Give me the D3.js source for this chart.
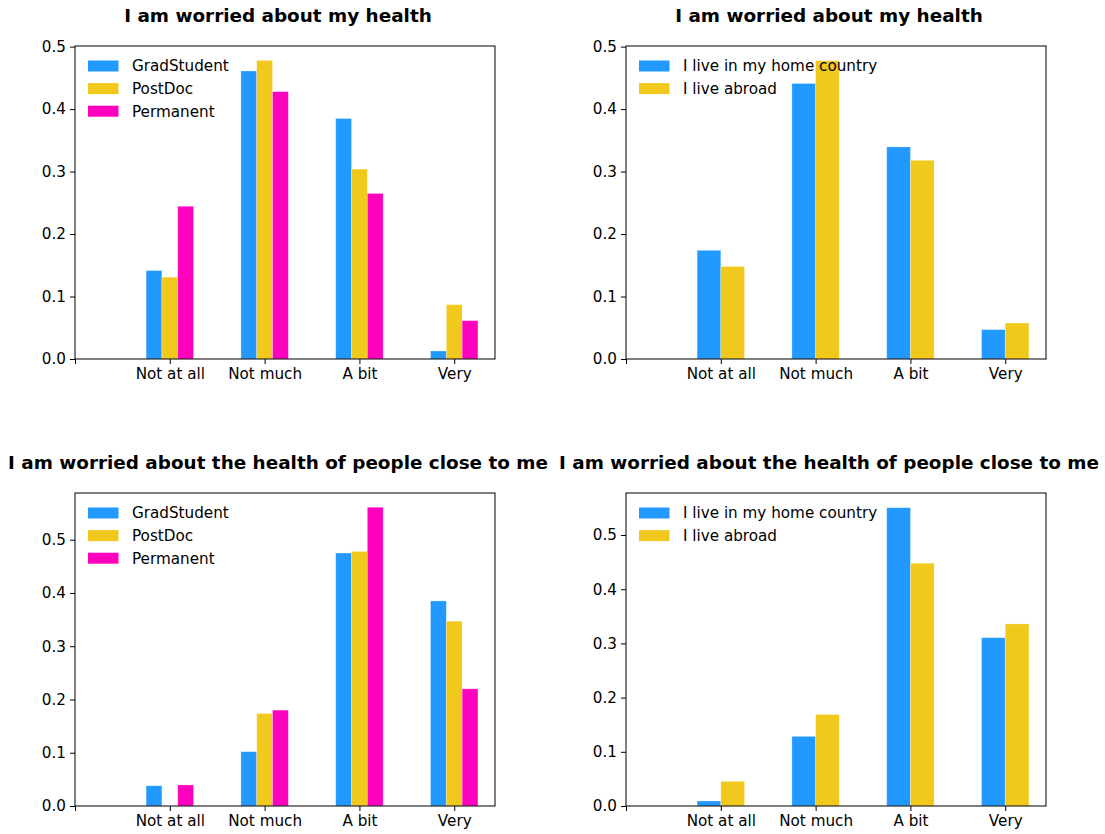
<!DOCTYPE html>
<html>
<head>
<meta charset="utf-8">
<script src="https://cdn.jsdelivr.net/npm/d3@7"></script>
<style>
  body { margin: 0; background: #fff; }
  svg text { font-family: "DejaVu Sans", sans-serif; fill: #000; }
</style>
</head>
<body>
<div id="chart"></div>
<script>
// categories and tick labels
const categories = ["Not at all", "Not much", "A bit", "Very"];
const positionNames = ["GradStudent", "PostDoc", "Permanent"];
const locationNames = ["I live in my home country", "I live abroad"];
const yTicksTop = [0, 0.1, 0.2, 0.3, 0.4, 0.5];
const yTicksBottom = [0, 0.1, 0.2, 0.3, 0.4, 0.5];

// "I am worried about my health" by position
const ownGrad = [0.1415, 0.461, 0.385, 0.0128];
const ownPostDoc = [0.131, 0.478, 0.304, 0.087];
const ownPermanent = [0.2445, 0.428, 0.265, 0.0614];
// by location
const ownHome = [0.174, 0.441, 0.3395, 0.047];
const ownAbroad = [0.148, 0.4775, 0.318, 0.0576];

// "I am worried about the health of people close to me" by position
const closeGrad = [0.038, 0.102, 0.475, 0.385];
const closePostDoc = [null, 0.1736, 0.478, 0.347];
const closePermanent = [0.0395, 0.18, 0.561, 0.22];
// by location
const closeHome = [0.0092, 0.1285, 0.5504, 0.3106];
const closeAbroad = [0.0455, 0.169, 0.448, 0.336];

const colors = ["#2199ff", "#f1c91d", "#ff00bf"];

const svg = d3.select("#chart").append("svg")
  .attr("width", 1105)
  .attr("height", 834);

const panels = [
  { title: "I am worried about my health", left: 75, top: 46, names: positionNames,
    series: [ownGrad, ownPostDoc, ownPermanent], ymax: 0.501, ticks: yTicksTop },
  { title: "I am worried about my health", left: 626, top: 46, names: locationNames,
    series: [ownHome, ownAbroad], ymax: 0.501, ticks: yTicksTop },
  { title: "I am worried about the health of people close to me", left: 75, top: 493, names: positionNames,
    series: [closeGrad, closePostDoc, closePermanent], ymax: 0.5877, ticks: yTicksBottom },
  { title: "I am worried about the health of people close to me", left: 626, top: 493, names: locationNames,
    series: [closeHome, closeAbroad], ymax: 0.5775, ticks: yTicksBottom }
];

const pw = 420, ph = 313;

panels.forEach((p) => {
  const g = svg.append("g").attr("transform", `translate(${p.left},${p.top})`);

  const x = d3.scaleLinear().domain([0, 4.43]).range([0, pw]);
  const y = d3.scaleLinear().domain([0, p.ymax]).range([ph, 0]);

  // bars
  const n = p.series.length;
  const w = 0.5 / n;
  p.series.forEach((vals, j) => {
    g.selectAll(null)
      .data(vals.map((v, i) => ({ v, i })).filter((d) => d.v !== null))
      .enter()
      .append("rect")
      .attr("x", (d) => x(d.i + 1 - 0.25 + j * w))
      .attr("width", x(w) - x(0))
      .attr("y", (d) => y(d.v))
      .attr("height", (d) => y(0) - y(d.v))
      .attr("fill", colors[j])
      .attr("stroke", "rgba(255,255,255,0.35)")
      .attr("stroke-width", 0.8);
  });

  // axes
  const xAxis = g.append("g")
    .attr("transform", `translate(0,${ph})`)
    .call(d3.axisBottom(x)
      .tickValues([0, 1, 2, 3, 4])
      .tickFormat((d) => (d === 0 ? "" : categories[d - 1]))
      .tickSize(5).tickPadding(4));
  xAxis.select(".domain").remove();

  const yAxis = g.append("g")
    .call(d3.axisLeft(y)
      .tickValues(p.ticks)
      .tickFormat(d3.format(".1f"))
      .tickSize(5).tickPadding(4));
  yAxis.select(".domain").remove();

  g.selectAll(".tick text").style("font-size", "15.2px");
  g.selectAll(".tick line").attr("stroke", "#000").attr("stroke-width", 1);

  // frame
  g.append("rect")
    .attr("width", pw).attr("height", ph)
    .attr("fill", "none").attr("stroke", "#000").attr("stroke-width", 1);

  // title
  g.append("text")
    .attr("x", pw / 2 - 7)
    .attr("y", -24)
    .attr("text-anchor", "middle")
    .style("font-size", "18.4px")
    .style("font-weight", "bold")
    .text(p.title);

  // legend (no frame)
  p.names.forEach((name, j) => {
    const ly = 20 + j * 22.6;
    g.append("rect")
      .attr("x", 13).attr("y", ly - 5.5)
      .attr("width", 30.5).attr("height", 11)
      .attr("fill", colors[j]);
    g.append("text")
      .attr("x", 57).attr("y", ly)
      .attr("dy", "0.35em")
      .style("font-size", "15.2px")
      .text(name);
  });
});
</script>
</body>
</html>
